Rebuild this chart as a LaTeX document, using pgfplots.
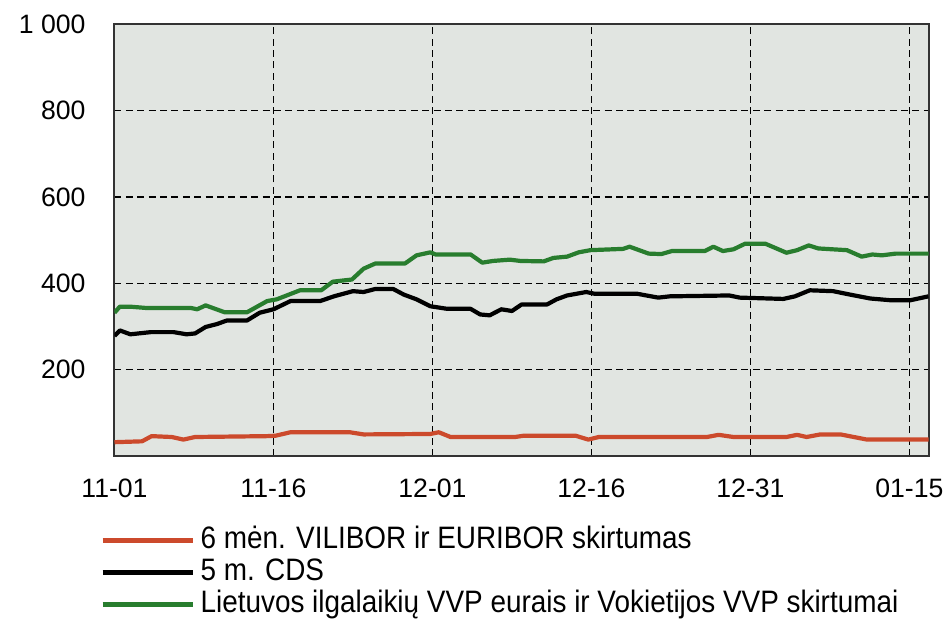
\documentclass[border=0pt]{standalone}
\usepackage{fontspec}
\setmainfont{Liberation Sans}
\newfontfamily\legfont[FakeStretch=0.9]{Liberation Sans}
\usepackage{pgfplots}
\pgfplotsset{compat=1.18}
\definecolor{bgc}{RGB}{225,229,225}
\definecolor{cred}{RGB}{204,74,44}
\definecolor{cgreen}{RGB}{40,125,46}
\begin{document}
\begin{tikzpicture}
\begin{axis}[
  name=ax,
  scale only axis,
  width=407pt, height=215.75pt,
  xmin=0, xmax=76.8, ymin=0, ymax=1000,
  xtick={0,15,30,45,60,75},
  xticklabels={11-01,11-16,12-01,12-16,12-31,01-15},
  ytick={200,400,600,800,1000},
  yticklabels={200,400,600,800,1 000},
  major tick length=0pt,
  grid=major,
  major grid style={black, line width=0.7pt, dash pattern=on 3.5pt off 2.2pt},
  axis background/.style={fill=bgc},
  axis line style={line width=1pt, black!80},
  ticklabel style={font=\fontsize{13.3}{16}\selectfont},
  xticklabel style={yshift=-8pt},
  yticklabel style={xshift=-11pt},
  legend style={at={(axis description cs:-0.0178,-0.16)}, anchor=north west,
    draw=none, fill=none, inner sep=0pt, row sep=1pt, column sep=3pt,
    font=\legfont\fontsize{15.5}{18}\selectfont,
    nodes={inner sep=0pt, text height=11.5pt, text depth=3.5pt}},
  legend cell align=left,
  legend image code/.code={\draw[#1] (0pt,0pt) -- (45pt,0pt);},
  every axis plot/.append style={line width=2.1pt, line join=round},
]
\addplot[cred] coordinates {
(0,32) (2.6,34) (3.5,46) (5.4,44) (6.5,38) (7.6,44) (14.4,46) (15.2,47) (16.6,55) (22.2,55) (23.5,50) (29.8,51) (30.6,55) (31.7,44) (37.8,44) (38.6,47) (43.5,47) (44.7,38) (45.7,44) (55.9,44) (57,49) (58.4,44) (63.4,44) (64.4,49) (65.3,44) (66.6,50) (68.5,50) (71,38) (76.8,38)
};
\addlegendentry{6 mėn. VILIBOR ir EURIBOR skirtumas}
\addplot[black] coordinates {
(0,278) (0.5,291) (1.5,282) (3.4,287) (5.6,287) (6.8,282) (7.6,284) (8.6,299) (9.7,306) (10.6,314) (12.5,314) (13.7,332) (15,340) (16.6,359) (19.4,359) (20.7,370) (22.5,382) (23.5,380) (24.6,387) (26.3,387) (27.3,374) (28.5,363) (29.8,347) (31.4,341) (33.6,341) (34.5,328) (35.4,326) (36.5,340) (37.5,336) (38.4,351) (40.8,351) (41.7,363) (42.7,372) (44.5,380) (45.3,376) (49.3,376) (51.3,367) (52.4,370) (58,372) (59,367) (63.1,364) (64.2,370) (65.6,384) (67.8,382) (69.4,374) (71.3,365) (73.2,361) (75.1,361) (76.8,370)
};
\addlegendentry{5 m. CDS}
\addplot[cgreen] coordinates {
(0,332) (0.5,346) (1.5,346) (3,343) (7.2,343) (7.8,340) (8.6,349) (10.4,333) (12.5,333) (14.4,359) (15.3,363) (17.5,384) (19.5,384) (20.6,404) (22.4,409) (23.5,434) (24.6,446) (27.4,446) (28.5,465) (29.8,472) (30.3,467) (33.6,467) (34.7,448) (35.7,452) (37.3,455) (38.3,452) (40.5,451) (41.4,459) (42.7,462) (43.8,472) (44.9,477) (48,480) (48.6,485) (50.4,469) (51.6,468) (52.6,475) (55.7,475) (56.5,485) (57.4,475) (58.4,479) (59.5,492) (61.4,492) (63.4,471) (64.4,477) (65.5,488) (66.4,481) (69.1,477) (70.5,462) (71.5,467) (72.4,465) (73.7,469) (76.8,469)
};
\addlegendentry{Lietuvos ilgalaikių VVP eurais ir Vokietijos VVP skirtumai}
\end{axis}
\pgfresetboundingbox
\path[use as bounding box] ([shift={(-57.25pt,-81.5pt)}]ax.south west) rectangle ([shift={(11.25pt,12.25pt)}]ax.north east);
\end{tikzpicture}
\end{document}
